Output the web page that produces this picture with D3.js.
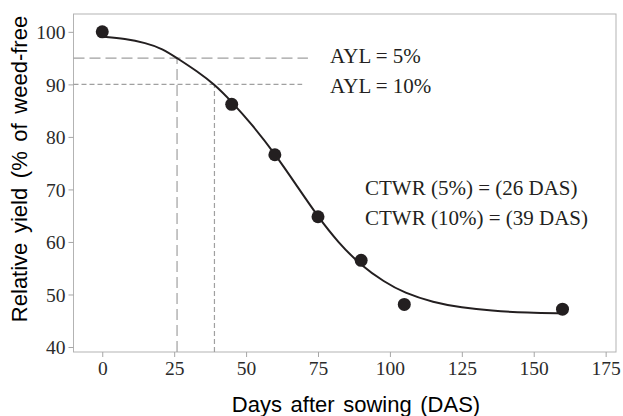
<!DOCTYPE html>
<html>
<head>
<meta charset="utf-8">
<script src="https://cdn.jsdelivr.net/npm/d3@7"></script>
<style>
  body { margin: 0; background: #fff; }
  svg { display: block; }
</style>
</head>
<body>
<svg id="grafico" width="623" height="416"></svg>
<script>
// observed points (DAS, relative yield %)
const dias = [0, 45, 60, 75, 90, 105, 160];
const rendimiento = [100, 86.2, 76.6, 64.8, 56.5, 48.1, 47.2];

// fitted curve
const curvaDias = [0, 8, 15, 21, 26, 33, 39, 45, 52, 60, 68, 75, 82, 90, 98, 105, 115, 125, 135, 148, 160];
const curvaRend = [99.1, 98.7, 97.9, 96.8, 95.0, 92.5, 90.0, 86.7, 82.4, 76.8, 70.4, 64.8, 59.9, 55.5, 52.4, 50.3, 48.5, 47.5, 46.9, 46.5, 46.4];

// acceptable yield loss levels and critical times
const aylNivel = [95, 90];
const ctwrDias = [26, 39];
const aylTextos = ["AYL = 5%", "AYL = 10%"];
const ctwrTextos = ["CTWR (5%) = (26 DAS)", "CTWR (10%) = (39 DAS)"];

const xTicks = [0, 25, 50, 75, 100, 125, 150, 175];
const yTicks = [40, 50, 60, 70, 80, 90, 100];

const svg = d3.select("#grafico");
const mIzq = 73.5, mSup = 14, mDer = 616, mInf = 352;

const x = d3.scaleLinear().domain([-10, 178.6]).range([mIzq, mDer]);
const y = d3.scaleLinear().domain([39.05, 103.4]).range([mInf, mSup]);

const serif = "'Liberation Serif', 'Times New Roman', serif";
const sans = "'Liberation Sans', Arial, sans-serif";

// panel border
svg.append("rect")
  .attr("x", mIzq).attr("y", mSup)
  .attr("width", mDer - mIzq).attr("height", mInf - mSup)
  .attr("fill", "none").attr("stroke", "#b3b3b3").attr("stroke-width", 1);

// axes
const ejeX = svg.append("g")
  .attr("transform", `translate(0,${mInf})`)
  .call(d3.axisBottom(x).tickValues(xTicks).tickSize(5).tickPadding(4));
const ejeY = svg.append("g")
  .attr("transform", `translate(${mIzq},0)`)
  .call(d3.axisLeft(y).tickValues(yTicks).tickSize(5).tickPadding(3));

[ejeX, ejeY].forEach(g => {
  g.select(".domain").remove();
  g.selectAll(".tick line").attr("stroke", "#a6a6a6");
  g.selectAll(".tick text")
    .attr("fill", "#2b2b2b")
    .style("font-family", serif)
    .style("font-size", "19.5px");
});
ejeY.selectAll(".tick text").attr("dy", "0.34em");

// dashed guide lines
const dashes = ["11,5", "5,3"];
const finX = [71.5, 69.5];
aylNivel.forEach((v, i) => {
  svg.append("line")
    .attr("x1", mIzq).attr("x2", x(finX[i]))
    .attr("y1", y(v)).attr("y2", y(v))
    .attr("stroke", "#a0a0a0").attr("stroke-width", 1.2)
    .attr("stroke-dasharray", dashes[i]);
  svg.append("line")
    .attr("x1", x(ctwrDias[i])).attr("x2", x(ctwrDias[i]))
    .attr("y1", mInf).attr("y2", y(v))
    .attr("stroke", "#a0a0a0").attr("stroke-width", 1.2)
    .attr("stroke-dasharray", dashes[i]);
});

// fitted curve
const curva = curvaDias.map((d, i) => [d, curvaRend[i]]);
svg.append("path")
  .datum(curva)
  .attr("fill", "none")
  .attr("stroke", "#231f20")
  .attr("stroke-width", 2)
  .attr("d", d3.line().x(d => x(d[0])).y(d => y(d[1])).curve(d3.curveBasis));

// observed points
svg.selectAll("circle.obs")
  .data(dias.map((d, i) => [d, rendimiento[i]]))
  .join("circle")
  .attr("class", "obs")
  .attr("cx", d => x(d[0]))
  .attr("cy", d => y(d[1]))
  .attr("r", 6.5)
  .attr("fill", "#231f20");

// annotations
const aylY = [63.3, 93.3];
aylTextos.forEach((t, i) => {
  svg.append("text")
    .attr("x", 330).attr("y", aylY[i])
    .attr("fill", "#231f20")
    .style("font-family", serif).style("font-size", "21px")
    .text(t);
});
const ctwrY = [195, 225];
ctwrTextos.forEach((t, i) => {
  svg.append("text")
    .attr("x", 365).attr("y", ctwrY[i])
    .attr("fill", "#231f20")
    .style("font-family", serif).style("font-size", "21px")
    .text(t);
});

// axis titles
svg.append("text")
  .attr("x", 356).attr("y", 412)
  .attr("text-anchor", "middle")
  .attr("fill", "#000")
  .style("font-family", sans).style("font-size", "22px")
  .style("word-spacing", "2.5px")
  .text("Days after sowing (DAS)");

svg.append("text")
  .attr("transform", "translate(27,169) rotate(-90)")
  .attr("text-anchor", "middle")
  .attr("fill", "#000")
  .style("font-family", sans).style("font-size", "22px")
  .style("word-spacing", "3.5px")
  .text("Relative yield (% of weed-free");
</script>
</body>
</html>
